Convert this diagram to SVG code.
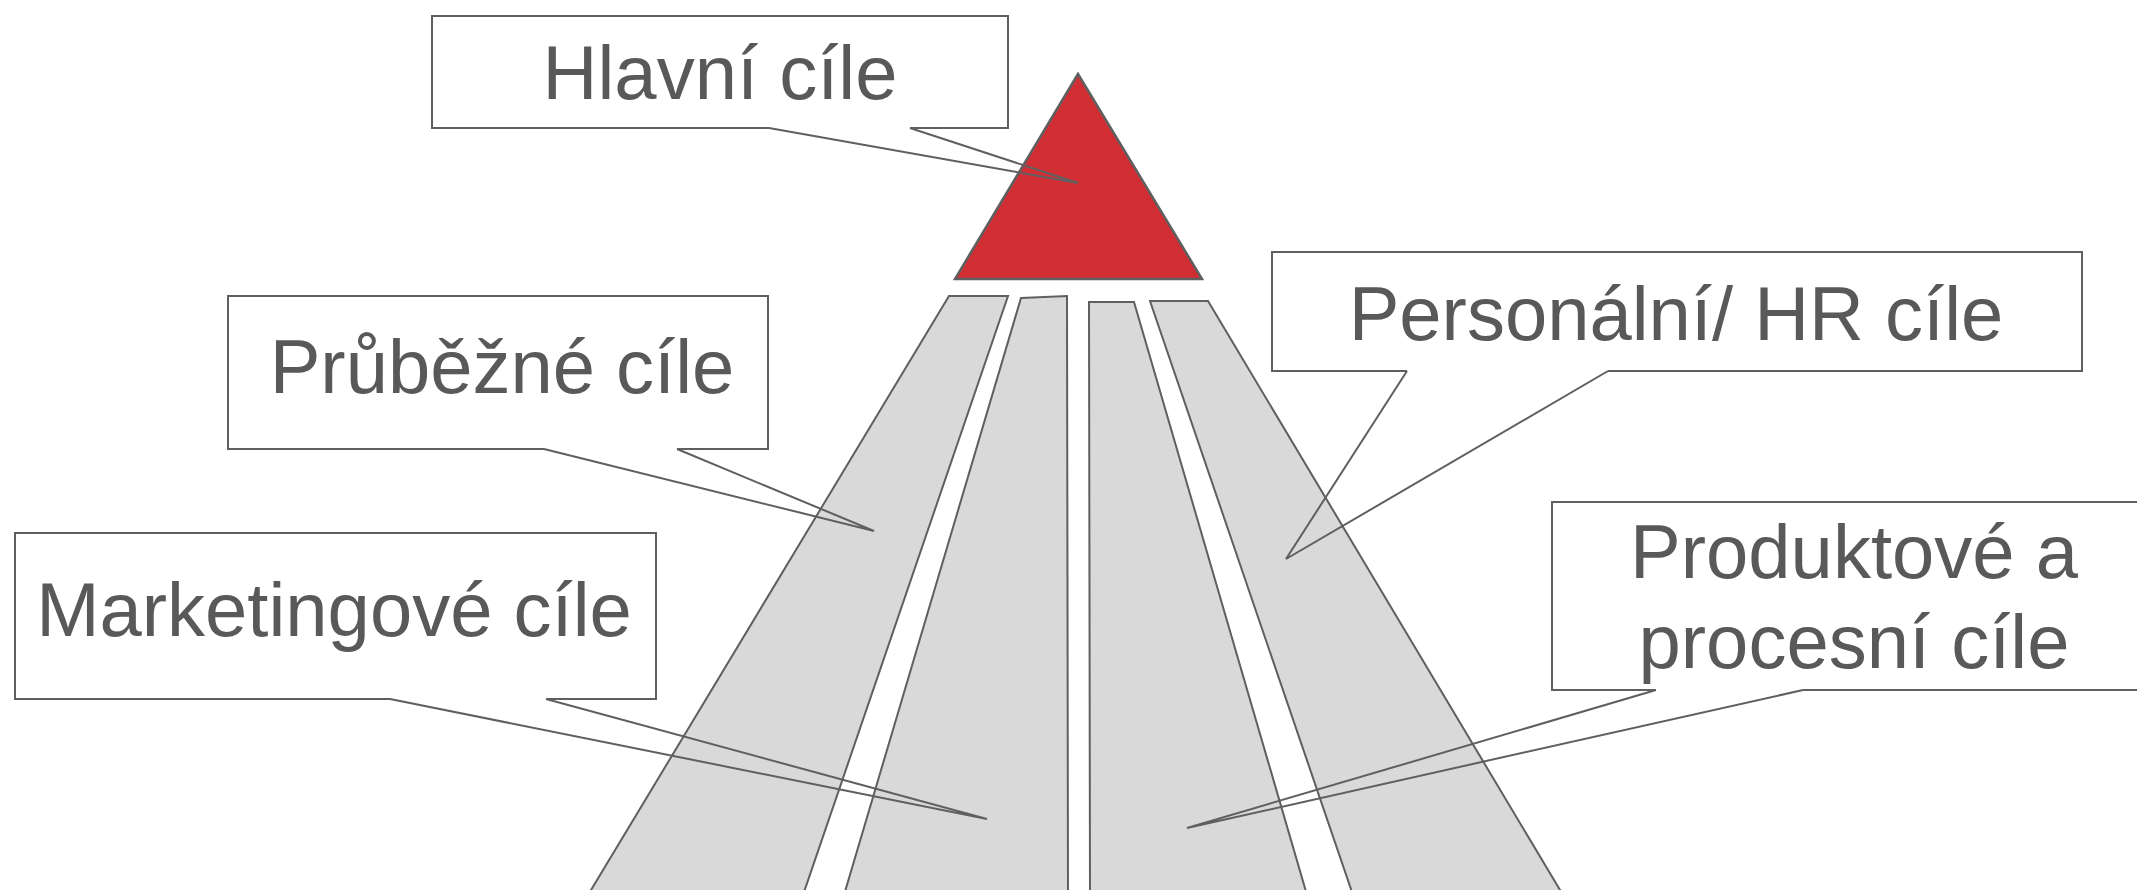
<svg xmlns="http://www.w3.org/2000/svg" width="2137" height="890" viewBox="0 0 2137 890">
<style>
.seg{fill:#D9D9D9;stroke:#5F5F5F;stroke-width:2;stroke-linejoin:miter}
.top{fill:#D12E34;stroke:#5F5F5F;stroke-width:2.5}
.co{fill:none;stroke:#5F5F5F;stroke-width:2;stroke-linejoin:miter}
.t{font-family:"Liberation Sans",Arial,sans-serif;font-size:76px;fill:#595959;text-anchor:middle}
</style>
<rect width="2137" height="890" fill="#FFFFFF"/>
<g id="pyramid">
<polygon id="seg1" class="seg" points="949,296 1008,296 803,895 588,895"/>
<polygon id="seg2" class="seg" points="1021,298 1067,296 1068,895 844,895"/>
<polygon id="seg3" class="seg" points="1089,302 1134,302 1307,895 1090,895"/>
<polygon id="seg4" class="seg" points="1150,301 1208,301 1563,895 1353,895"/>
<polygon id="apex" class="top" points="1078,74 955,279 1202,279"/>
</g>
<g id="connectors">
<path class="co" d="M910,128 L1078,183 L769,128"/>
<path class="co" d="M677,449 L874,531 L544,449"/>
<path class="co" d="M546,699 L987,819 L390,699"/>
<path class="co" d="M1407,371 L1286,559 L1608,371"/>
<path class="co" d="M1656,690 L1187,828 L1803,690"/>
</g>
<g id="hlavni">
<path class="co" d="M910,128 L1008,128 L1008,16 L432,16 L432,128 L769,128"/>
<text class="t" x="720" y="99">Hlavní cíle</text>
</g>
<g id="prubezne">
<path class="co" d="M677,449 L768,449 L768,296 L228,296 L228,449 L544,449"/>
<text class="t" x="502" y="393">Průběžné cíle</text>
</g>
<g id="marketingove">
<path class="co" d="M546,699 L656,699 L656,533 L15,533 L15,699 L390,699"/>
<text class="t" x="334" y="636">Marketingové cíle</text>
</g>
<g id="personalni">
<path class="co" d="M1608,371 L2082,371 L2082,252 L1272,252 L1272,371 L1407,371"/>
<text class="t" x="1676" y="340">Personální/ HR cíle</text>
</g>
<g id="produktove">
<path class="co" d="M1803,690 L2160,690 M2160,502 L1552,502 L1552,690 L1656,690"/>
<text class="t" x="1854" y="578">Produktové a</text>
<text class="t" x="1854" y="668">procesní cíle</text>
</g>
</svg>
